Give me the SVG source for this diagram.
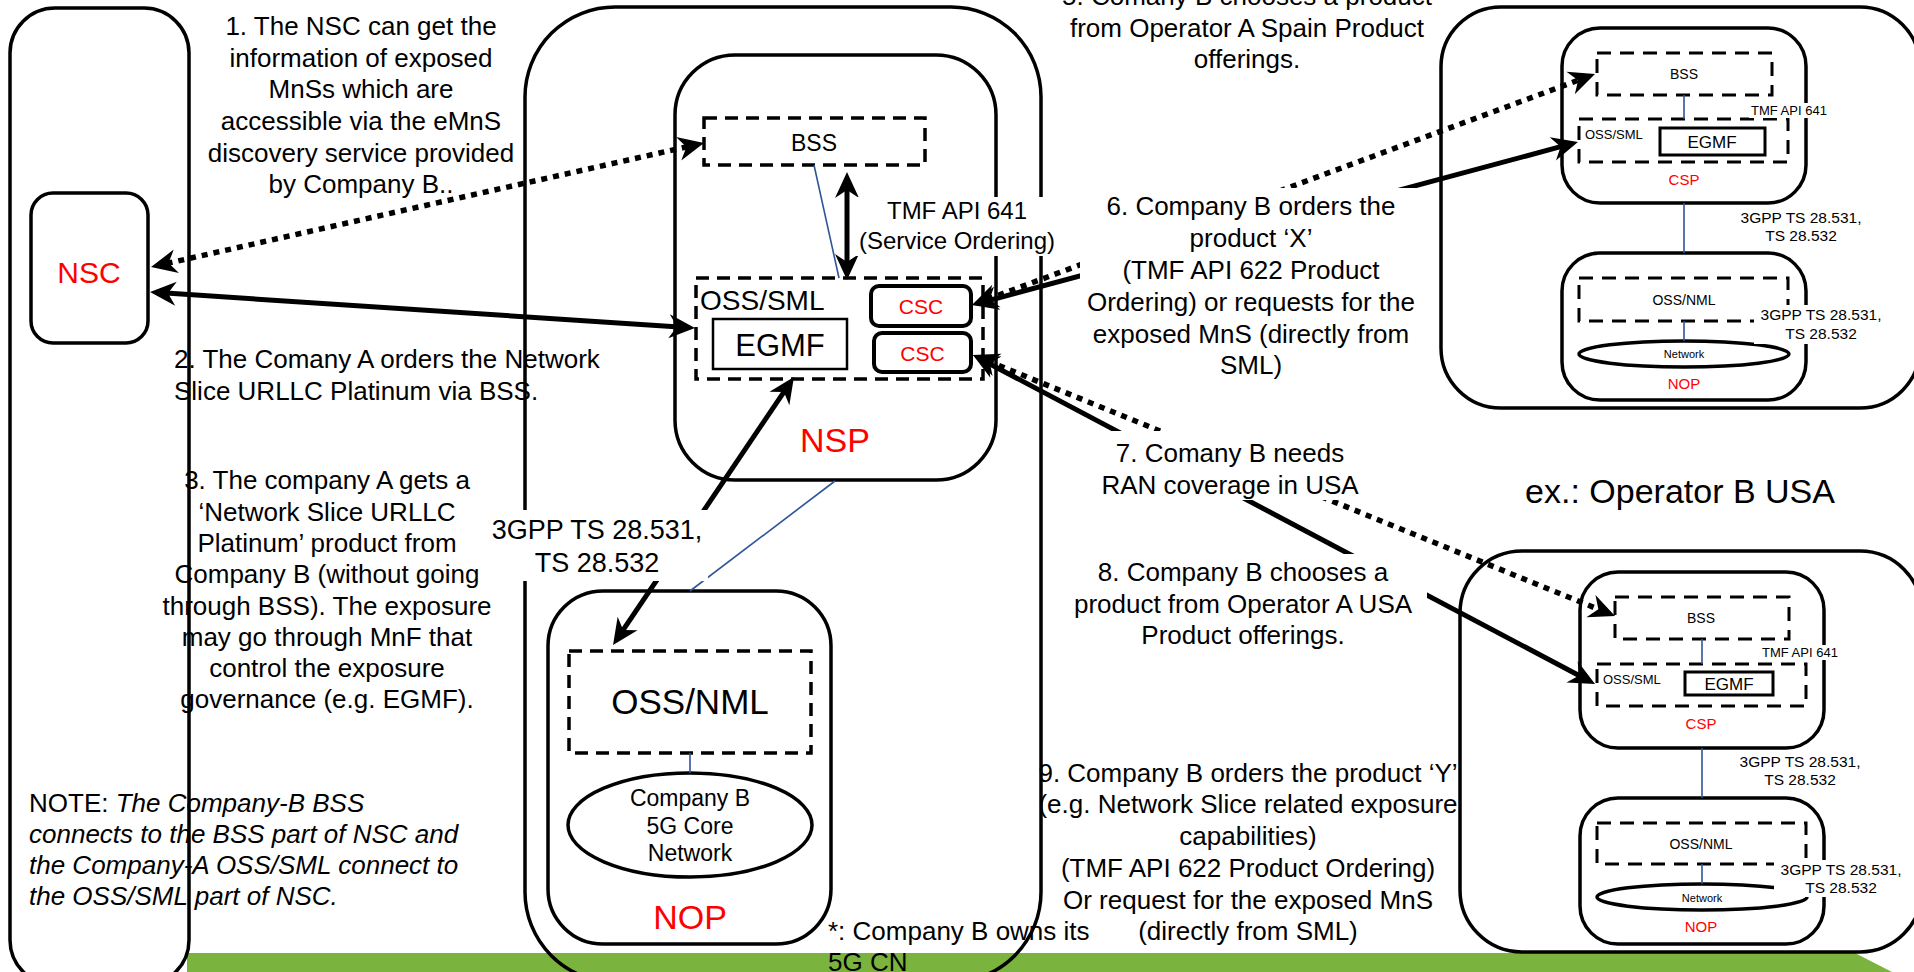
<svg xmlns="http://www.w3.org/2000/svg" width="1914" height="972" viewBox="0 0 1914 972">
<defs>
<style>
.box{fill:none;stroke:#000;stroke-width:3.5}
.wbox{fill:#fff;stroke:#000;stroke-width:3.5}
.dash{fill:none;stroke:#000;stroke-width:3.5;stroke-dasharray:13 8}
.dashs{fill:none;stroke:#000;stroke-width:3;stroke-dasharray:14 9}
.blue{stroke:#2F5597;stroke-width:1.6;fill:none}
.sol{stroke:#000;stroke-width:5;fill:none;marker-start:url(#ah);marker-end:url(#ah)}
.dot{stroke:#000;stroke-width:5.5;stroke-dasharray:6 6;fill:none;marker-start:url(#ah);marker-end:url(#ah)}
text{font-family:"Liberation Sans",Arial,Helvetica,sans-serif;fill:#000}
.t26{font-size:26px}
.c{text-anchor:middle}
.red{fill:#FF0000}
.bg{fill:#fff;stroke:none}
.s13{font-size:13px}
.s14{font-size:14px}
.s15{font-size:15px}
.s16{font-size:15.5px}
</style>
<marker id="ah" viewBox="-12 -13 30 26" refX="0" refY="0" markerWidth="30" markerHeight="26" markerUnits="userSpaceOnUse" orient="auto-start-reverse">
<path d="M16,0 L-10,-12 L-2,0 L-10,12 Z" fill="#000" stroke="none"/>
</marker>
</defs>

<polygon id="greenbar" points="187,953 1855,953 1892,972 187,972" fill="#7AB33E"/>

<g id="companyA">
<rect class="box" x="10" y="8" width="179" height="977" rx="45"/>
</g>
<g id="nsc">
<rect class="wbox" x="31" y="193" width="117" height="150" rx="22"/>
<text x="89" y="283" class="c red" font-size="30">NSC</text>
</g>

<g id="companyB">
<rect class="box" x="525" y="7" width="516" height="975" rx="90"/>
</g>
<g id="nsp">
<rect class="wbox" x="675" y="55" width="321" height="425" rx="60"/>
<text x="835" y="452" class="c red" font-size="34">NSP</text>
</g>
<g id="nsp-bss">
<rect class="dash" x="704" y="118" width="221" height="47"/>
<text x="814" y="151" class="c" font-size="23">BSS</text>
</g>
<g id="nsp-osssml">
<rect class="dash" x="696" y="278" width="287" height="101"/>
<text x="700" y="310" font-size="28">OSS/SML</text>
</g>
<g id="nsp-egmf">
<rect x="713" y="319" width="134" height="50" fill="#fff" stroke="#000" stroke-width="2.5"/>
<text x="780" y="356" class="c" font-size="31">EGMF</text>
</g>
<g id="csc1">
<rect x="871" y="286" width="100" height="40" rx="8" fill="#fff" stroke="#000" stroke-width="4"/>
<text x="921" y="314" class="c red" font-size="21">CSC</text>
</g>
<g id="csc2">
<rect x="874" y="333" width="97" height="39" rx="8" fill="#fff" stroke="#000" stroke-width="4"/>
<text x="922.5" y="360.5" class="c red" font-size="21">CSC</text>
</g>
<g id="nopB">
<rect class="wbox" x="548" y="591" width="283" height="353" rx="55"/>
<text x="690" y="929" class="c red" font-size="34">NOP</text>
</g>
<g id="nopB-ossnml">
<rect class="dash" x="569" y="651" width="242" height="102"/>
<text x="690" y="714" class="c" font-size="35">OSS/NML</text>
</g>
<g id="coreNetwork">
<ellipse cx="690" cy="825" rx="122" ry="52" fill="#fff" stroke="#000" stroke-width="3.5"/>
<text x="690" y="806" class="c" font-size="23">Company B</text>
<text x="690" y="834" class="c" font-size="23">5G Core</text>
<text x="690" y="861" class="c" font-size="23">Network</text>
</g>

<g id="spain">
<rect class="box" x="1441" y="7" width="479" height="401" rx="60"/>
<rect class="box" x="1562" y="28" width="244" height="175" rx="38"/>
<rect class="dashs" x="1597" y="53" width="175" height="42"/>
<text x="1684" y="79" class="c s14">BSS</text>
<rect class="dashs" x="1579" y="119" width="209" height="43"/>
<text x="1585" y="139" class="s13">OSS/SML</text>
<rect x="1660" y="128" width="105" height="27" fill="#fff" stroke="#000" stroke-width="3"/>
<text x="1712" y="147.5" class="c" font-size="17">EGMF</text>
<text x="1684" y="185" class="c red s15">CSP</text>
<rect class="box" x="1562" y="253" width="244" height="147" rx="38"/>
<rect class="dashs" x="1579" y="278" width="209" height="43"/>
<text x="1684" y="305" class="c s14">OSS/NML</text>
<ellipse cx="1684" cy="354" rx="105" ry="13" fill="none" stroke="#000" stroke-width="3.5"/>
<text x="1684" y="358" class="c" font-size="11">Network</text>
<text x="1684" y="389" class="c red s15">NOP</text>
</g>

<g id="usa">
<rect class="box" x="1460" y="551" width="462" height="401" rx="62"/>
<rect class="box" x="1580" y="572" width="244" height="176" rx="38"/>
<rect class="dashs" x="1615" y="597" width="174" height="42"/>
<text x="1701" y="623" class="c s14">BSS</text>
<rect class="dashs" x="1597" y="664" width="209" height="42"/>
<text x="1603" y="684" class="s13">OSS/SML</text>
<rect x="1685" y="672" width="88" height="23" fill="#fff" stroke="#000" stroke-width="3"/>
<text x="1729" y="690" class="c" font-size="17">EGMF</text>
<text x="1701" y="729" class="c red s15">CSP</text>
<rect class="box" x="1580" y="798" width="244" height="146" rx="38"/>
<rect class="dashs" x="1597" y="823" width="209" height="41"/>
<text x="1701" y="849" class="c s14">OSS/NML</text>
<ellipse cx="1702" cy="897" rx="105" ry="13" fill="none" stroke="#000" stroke-width="3.5"/>
<text x="1702" y="902" class="c" font-size="11">Network</text>
<text x="1701" y="932" class="c red s15">NOP</text>
</g>

<g id="connectors">
<line class="blue" x1="814" y1="165" x2="839" y2="278"/>
<line class="blue" x1="835" y1="481" x2="690" y2="591"/>
<line class="blue" x1="690" y1="753" x2="690" y2="773"/>
<line class="blue" x1="1684" y1="95" x2="1684" y2="119"/>
<line class="blue" x1="1684" y1="203" x2="1684" y2="253"/>
<line class="blue" x1="1684" y1="321" x2="1684" y2="341"/>
<line class="blue" x1="1702" y1="639" x2="1702" y2="664"/>
<line class="blue" x1="1702" y1="748" x2="1702" y2="798"/>
<line class="blue" x1="1702" y1="864" x2="1702" y2="884"/>
<path class="dot" d="M166.6,263.5 L688.4,146.5"/>
<path class="sol" d="M166,293.1 L679,326.9"/>
<path class="sol" d="M847,188 L847,264"/>
<path class="sol" d="M785,390.3 L622,631.7"/>
<path class="dot" d="M987,299.4 L1580,79.6"/>
<path class="sol" d="M987.5,300.8 L1562.5,146.2"/>
<path class="dot" d="M987.8,361 L1600.2,610"/>
<path class="sol" d="M987.1,362.5 L1580.9,676.5"/>
</g>

<g id="labels">
<g id="lbl-tmf641">
<rect class="bg" x="856" y="197" width="202" height="59"/>
<text x="957" y="219" class="c" font-size="24">TMF API 641</text>
<text x="957" y="249" class="c" font-size="24">(Service Ordering)</text>
</g>
<g id="lbl-3gpp">
<rect class="bg" x="485" y="510" width="223" height="71"/>
<text x="597" y="539" class="c" font-size="27">3GPP TS 28.531,</text>
<text x="597" y="572" class="c" font-size="27">TS 28.532</text>
</g>
<g id="lbl-spain">
<rect class="bg" x="1749" y="103" width="80" height="15"/>
<text x="1751" y="115" class="s13">TMF API 641</text>
<text x="1801" y="223" class="c s16">3GPP TS 28.531,</text>
<text x="1801" y="241" class="c s16">TS 28.532</text>
<rect class="bg" x="1754" y="305" width="136" height="39"/>
<text x="1821" y="320" class="c s16">3GPP TS 28.531,</text>
<text x="1821" y="339" class="c s16">TS 28.532</text>
</g>
<g id="lbl-usa">
<rect class="bg" x="1760" y="645" width="81" height="15"/>
<text x="1762" y="657" class="s13">TMF API 641</text>
<text x="1800" y="767" class="c s16">3GPP TS 28.531,</text>
<text x="1800" y="785" class="c s16">TS 28.532</text>
<rect class="bg" x="1774" y="860" width="136" height="37"/>
<text x="1841" y="875" class="c s16">3GPP TS 28.531,</text>
<text x="1841" y="893" class="c s16">TS 28.532</text>
</g>
<text x="1680" y="503" class="c" font-size="34">ex.: Operator B USA</text>

<g id="step1" class="t26">
<text x="361" y="35" class="c">1. The NSC can get the</text>
<text x="361" y="67" class="c">information of exposed</text>
<text x="361" y="98" class="c">MnSs which are</text>
<text x="361" y="130" class="c">accessible via the eMnS</text>
<text x="361" y="162" class="c">discovery service provided</text>
<text x="361" y="193" class="c">by Company B..</text>
</g>
<g id="step2" class="t26">
<text x="174" y="368">2. The Comany A orders the Network</text>
<text x="174" y="400">Slice URLLC Platinum via BSS.</text>
</g>
<g id="step3" class="t26">
<text x="327" y="489" class="c">3. The company A gets a</text>
<text x="327" y="521" class="c">‘Network Slice URLLC</text>
<text x="327" y="552" class="c">Platinum’ product from</text>
<text x="327" y="583" class="c">Company B (without going</text>
<text x="327" y="615" class="c">through BSS). The exposure</text>
<text x="327" y="646" class="c">may go through MnF that</text>
<text x="327" y="677" class="c">control the exposure</text>
<text x="327" y="708" class="c">governance (e.g. EGMF).</text>
</g>
<g id="note" class="t26">
<text x="29" y="812">NOTE: <tspan font-style="italic">The Company-B BSS</tspan></text>
<text x="29" y="843" font-style="italic">connects to the BSS part of NSC and</text>
<text x="29" y="874" font-style="italic">the Company-A OSS/SML connect to</text>
<text x="29" y="905" font-style="italic">the OSS/SML part of NSC.</text>
</g>
<g id="step5" class="t26">
<text x="1247" y="5" class="c">5. Comany B chooses a product</text>
<text x="1247" y="37" class="c">from Operator A Spain Product</text>
<text x="1247" y="68" class="c">offerings.</text>
</g>
<g id="step6" class="t26">
<rect class="bg" x="1080" y="188" width="345" height="198"/>
<text x="1251" y="215" class="c">6. Company B orders the</text>
<text x="1251" y="247" class="c">product ‘X’</text>
<text x="1251" y="279" class="c">(TMF API 622 Product</text>
<text x="1251" y="311" class="c">Ordering) or requests for the</text>
<text x="1251" y="343" class="c">exposed MnS (directly from</text>
<text x="1251" y="374" class="c">SML)</text>
</g>
<g id="step7" class="t26">
<rect class="bg" x="1098" y="431" width="264" height="69"/>
<text x="1230" y="462" class="c">7. Comany B needs</text>
<text x="1230" y="494" class="c">RAN coverage in USA</text>
</g>
<g id="step8" class="t26">
<rect class="bg" x="1065" y="554" width="362" height="101"/>
<text x="1243" y="581" class="c">8. Company B chooses a</text>
<text x="1243" y="613" class="c">product from Operator A USA</text>
<text x="1243" y="644" class="c">Product offerings.</text>
</g>
<g id="step9" class="t26">
<text x="1248" y="782" class="c">9. Company B orders the product ‘Y’</text>
<text x="1248" y="813" class="c">(e.g. Network Slice related exposure</text>
<text x="1248" y="845" class="c">capabilities)</text>
<text x="1248" y="877" class="c">(TMF API 622 Product Ordering)</text>
<text x="1248" y="909" class="c">Or request for the exposed MnS</text>
<text x="1248" y="940" class="c">(directly from SML)</text>
</g>
<g id="footnote" class="t26">
<text x="828" y="940">*: Company B owns its</text>
<text x="828" y="971">5G CN</text>
</g>
</g>
</svg>
